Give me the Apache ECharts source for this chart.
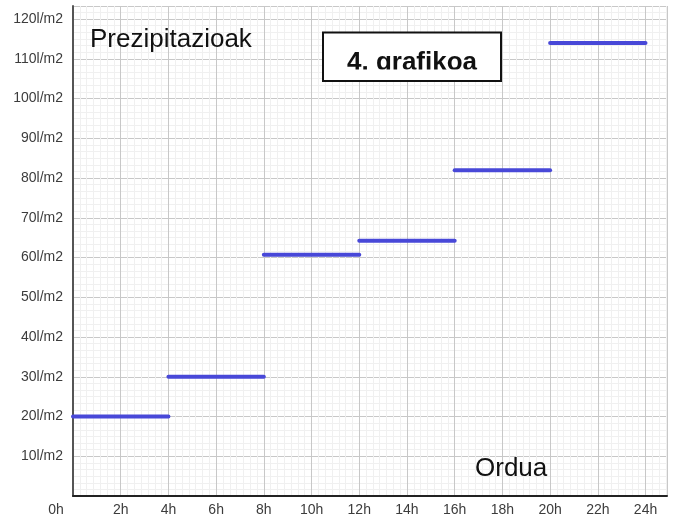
<!DOCTYPE html>
<html>
<head>
<meta charset="utf-8">
<script src="https://cdn.jsdelivr.net/npm/echarts@6/dist/echarts.min.js"></script>
<style>
  html, body { margin: 0; padding: 0; background: #fff; }
  #chart { width: 673px; height: 515px; }
</style>
</head>
<body>
<div id="chart"></div>
<script>
// tarteen mugak (orduak) eta prezipitazioak
const hourEdges = [0, 4, 8, 12, 16, 20, 24];
const precip = [20, 30, 60.7, 64.2, 82, 114];
const xTicks = [0, 2, 4, 6, 8, 10, 12, 14, 16, 18, 20, 22, 24];
const yTicks = [10, 20, 30, 40, 50, 60, 70, 80, 90, 100, 110, 120];

const chart = echarts.init(document.getElementById('chart'));

// urrats bakoitza serie bat
const segments = precip.map(function (v, i) {
  return {
    type: 'line',
    data: [[hourEdges[i], v], [hourEdges[i + 1], v]],
    symbol: 'none',
    silent: true,
    lineStyle: { color: '#4848d8', width: 4, cap: 'round' },
    z: 5
  };
});

chart.setOption({
  animation: false,
  grid: { left: 73, right: 6, top: 6, bottom: 19, outerBoundsMode: 'none', containLabel: false },
  xAxis: {
    type: 'value',
    min: 0,
    max: 24.9,
    interval: 2,
    axisLine: { lineStyle: { color: '#222', width: 2 } },
    axisTick: { show: false },
    axisLabel: {
      margin: 7,
      color: '#3c3c3c',
      fontSize: 14,
      fontFamily: 'Liberation Sans, Arial',
      formatter: function (v) {
        if (v === 0) return '{z|0h}';
        return xTicks.indexOf(v) >= 0 ? v + 'h' : '';
      },
      rich: { z: { padding: [0, 34, 0, 0], fontSize: 14, color: '#3c3c3c', fontFamily: 'Liberation Sans, Arial' } }
    },
    splitLine: { show: true, lineStyle: { color: '#c8c8c8', width: 1 } },
    minorTick: { show: false, splitNumber: 7 },
    minorSplitLine: { show: true, lineStyle: { color: '#f0f0f0', width: 1 } }
  },
  yAxis: {
    type: 'value',
    min: 0,
    max: 123.3,
    interval: 10,
    axisLine: { show: true, lineStyle: { color: '#555', width: 2 } },
    axisTick: { show: false },
    axisLabel: {
      margin: 10,
      color: '#3c3c3c',
      fontSize: 14,
      fontFamily: 'Liberation Sans, Arial',
      formatter: function (v) {
        return yTicks.indexOf(v) >= 0 ? v + 'l/m2' : '';
      }
    },
    splitLine: { show: true, lineStyle: { color: '#c8c8c8', width: 1 } },
    minorTick: { show: false, splitNumber: 6 },
    minorSplitLine: { show: true, lineStyle: { color: '#f0f0f0', width: 1 } }
  },
  graphic: [
    {
      type: 'text',
      left: 90,
      top: 27,
      z: 10,
      style: { text: 'Prezipitazioak', fontSize: 26, fontFamily: 'Liberation Sans, Arial', fill: '#111' }
    },
    {
      type: 'text',
      left: 475,
      top: 456,
      z: 10,
      style: { text: 'Ordua', fontSize: 26, fontFamily: 'Liberation Sans, Arial', fill: '#111' }
    },
    {
      type: 'rect',
      shape: { x: 323, y: 32.5, width: 178, height: 48.5 },
      style: { fill: '#fff', stroke: '#111', lineWidth: 2 },
      z: 10
    },
    {
      type: 'text',
      x: 412,
      y: 50,
      z: 11,
      style: {
        text: '4. grafikoa', fontSize: 26, fontWeight: 'bold',
        fontFamily: 'Liberation Sans, Arial', fill: '#111', align: 'center', verticalAlign: 'top'
      }
    },
    {
      // testuaren behealdea moztuta dago jatorrizkoan
      type: 'rect',
      shape: { x: 324, y: 69.5, width: 176, height: 10.5 },
      style: { fill: '#fff' },
      z: 12
    }
  ],
  series: segments
});
</script>
</body>
</html>
